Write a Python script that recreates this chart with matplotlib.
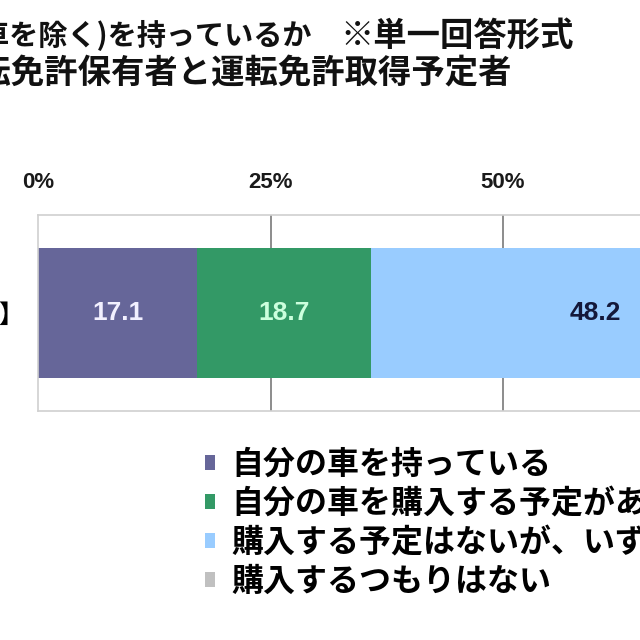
import matplotlib
matplotlib.use("Agg")
import matplotlib.pyplot as plt
from matplotlib.patches import Patch

plt.rcParams["font.family"] = ["Noto Sans CJK JP", "DejaVu Sans"]

# ── データ ─────────────────────────────────────────
category = "【全体】"
series_labels = [
    "自分の車を持っている",
    "自分の車を購入する予定がある",
    "購入する予定はないが、いずれ購入したい",
    "購入するつもりはない",
]
values = [17.1, 18.7, 48.2, 16.0]
colors = ["#666699", "#339966", "#99ccff", "#c0c0c0"]
text_colors = ["#f2f0ff", "#ccffdd", "#14183a", "#222222"]
ticks = [0, 25, 50, 75, 100]
tick_labels = ["0%", "25%", "50%", "75%", "100%"]
title_a = "自分の車(家族の車を除く)を持っているか"
title_b = "※単一回答形式"
title_2 = "対象：運転免許保有者と運転免許取得予定者"

num_font = ["Liberation Sans", "DejaVu Sans"]

fig = plt.figure(figsize=(6.4, 6.4), dpi=100, facecolor="white")

# 画像は元グラフの左側を切り取ったもの → 軸は右にはみ出す
ax = fig.add_axes([38 / 640, 229 / 640, 930 / 640, 196 / 640])
left = 0
for v, c, tc in zip(values, colors, text_colors):
    ax.barh([0], [v], left=left, height=0.665, color=c, zorder=2)
    ax.text(left + v / 2, 0, f"{v:.1f}", ha="center", va="center",
            fontsize=19, fontweight="bold", color=tc, family=num_font,
            zorder=3)
    left += v

ax.set_xlim(0, 100)
ax.set_ylim(-0.5, 0.5)
ax.xaxis.tick_top()
ax.set_xticks(ticks)
ax.set_xticklabels(tick_labels, fontsize=16, fontweight="bold",
                   family=num_font, color="#1a1a1a")
ax.tick_params(axis="x", length=0, pad=16)
ax.set_yticks([0])
ax.set_yticklabels([category], fontsize=18, fontweight="bold")
ax.tick_params(axis="y", length=0, pad=10)
for t in ticks[1:-1]:
    ax.axvline(t, color="#8c8c8c", lw=1.4, zorder=1)
for s in ["top", "bottom", "left"]:
    ax.spines[s].set_color("#d0d0d0")
    ax.spines[s].set_linewidth(1.2)
ax.spines["right"].set_visible(False)

# タイトル
fig.text(312 / 640, 1 - 36 / 640, title_a, ha="right", va="center",
         fontsize=21, fontweight="bold", color="#111111")
fig.text(340 / 640, 1 - 36 / 640, title_b, ha="left", va="center",
         fontsize=24, fontweight="bold", color="#111111")
fig.text(512 / 640, 1 - 74 / 640, title_2, ha="right", va="center",
         fontsize=24, fontweight="bold", color="#111111")

handles = [Patch(facecolor=c, edgecolor="none") for c in colors]
fig.legend(handles, series_labels, loc="upper left",
           bbox_to_anchor=(205 / 640, 1 - 449 / 640), frameon=False,
           prop={"size": 23, "weight": "bold"},
           handlelength=0.32, handleheight=0.32,
           handletextpad=0.5, labelspacing=0.22, borderpad=0,
           borderaxespad=0)

fig.savefig("out.png", dpi=100, facecolor="white")
